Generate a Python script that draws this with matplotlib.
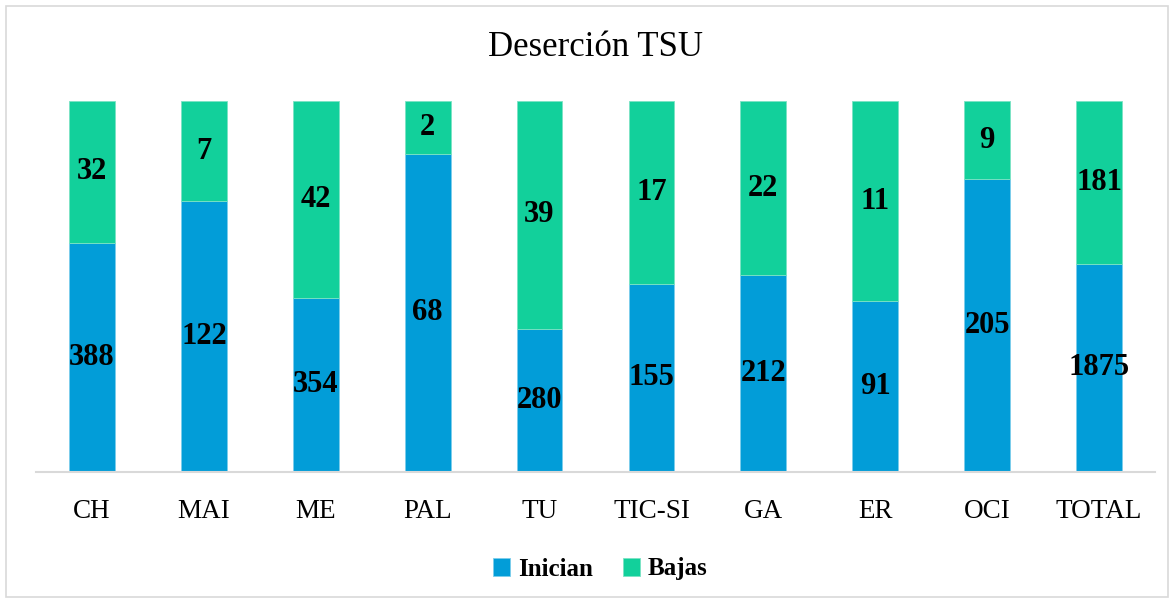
import matplotlib.pyplot as plt
from matplotlib.patches import Rectangle

# ---------------- datos ----------------
carreras = ["CH", "MAI", "ME", "PAL", "TU", "TIC-SI", "GA", "ER", "OCI", "TOTAL"]
inician = [388, 122, 354, 68, 280, 155, 212, 91, 205, 1875]
bajas = [32, 7, 42, 2, 39, 17, 22, 11, 9, 181]
# alto de cada tramo en la grafica (100% apilado)
pct_inician = [61.8, 72.9, 46.8, 85.7, 38.5, 50.5, 53.0, 45.9, 78.9, 55.9]
pct_bajas = [38.2, 27.1, 53.2, 14.3, 61.5, 49.5, 47.0, 54.1, 21.1, 44.1]

AZUL = "#029DD8"
VERDE = "#12D09B"
SERIF = ["Liberation Serif", "DejaVu Serif"]

fig = plt.figure(figsize=(11.74, 6.03), dpi=100)
ax = fig.add_axes([36 / 1174, 1 - 471.5 / 603, 1119 / 1174, 370.5 / 603])

x = range(len(carreras))
b1 = ax.bar(x, pct_inician, width=0.41, color=AZUL, edgecolor="#7CCDEB", linewidth=0.6, label="Inician")
b2 = ax.bar(x, pct_bajas, width=0.41, bottom=pct_inician, color=VERDE, edgecolor="#7BE3C4",
            linewidth=0.6, label="Bajas")

# etiquetas de datos al centro de cada tramo
for i in x:
    ax.text(i, pct_inician[i] / 2, str(inician[i]), ha="center", va="center",
            fontsize=22, fontweight="bold", family=SERIF)
    ax.text(i, pct_inician[i] + pct_bajas[i] / 2, str(bajas[i]), ha="center", va="center",
            fontsize=22, fontweight="bold", family=SERIF)

ax.set_xlim(-0.5, len(carreras) - 0.5)
ax.set_ylim(0, 100)
ax.set_yticks([])
ax.set_xticks(list(x))
ax.set_xticklabels(carreras, fontsize=19.5, family=SERIF)
ax.tick_params(axis="x", length=0, pad=20)
for s in ["top", "right", "left"]:
    ax.spines[s].set_visible(False)
ax.spines["bottom"].set_color("#D9D9D9")
ax.spines["bottom"].set_linewidth(1.5)

fig.text(596 / 1174, 1 - 48 / 603, "Deserción TSU", ha="center", va="center",
         fontsize=25, family=SERIF)

fig.legend(handles=[b1, b2], loc="center", bbox_to_anchor=(600 / 1174, 1 - 569 / 603), ncol=2,
           frameon=False, handlelength=0.7, handleheight=0.7, handletextpad=0.3,
           columnspacing=1.2, prop={"family": SERIF, "size": 18, "weight": "bold"})

# marco gris del grafico
fig.patches.append(Rectangle((6 / 1174, 6 / 603), 1162 / 1174, 591 / 603, transform=fig.transFigure,
                             fill=False, edgecolor="#D9D9D9", linewidth=1.2))

fig.savefig("out.png", dpi=100)
